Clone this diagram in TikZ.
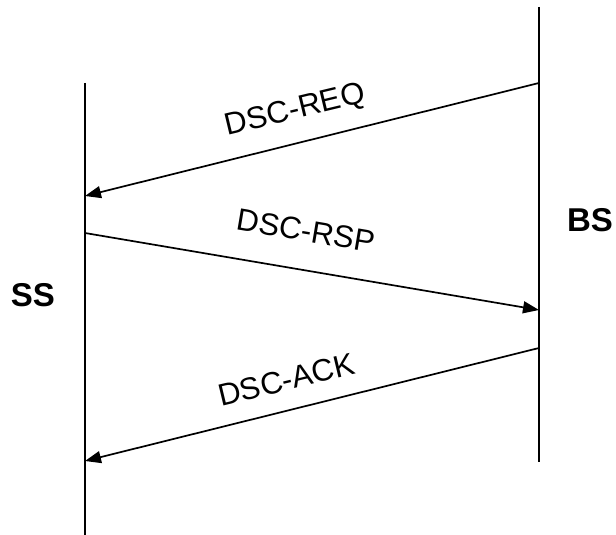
\documentclass[tikz,border=0pt]{standalone}
\usepackage{fontspec}
\setmainfont{Liberation Sans}
\usetikzlibrary{arrows.meta}
\begin{document}
\begin{tikzpicture}[x=1pt,y=-1pt,
  lifeline/.style={line width=1.7pt},
  msg/.style={line width=1.7pt,-{Triangle[length=16pt,width=12pt]}},
  msglabel/.style={inner sep=0pt,anchor=base,font=\fontsize{31}{37}\selectfont},
  actor/.style={inner sep=0pt,anchor=base,font=\fontsize{33}{40}\selectfont\bfseries}]
\useasboundingbox (0,0) rectangle (616,535);
% lifelines
\coordinate (sstop) at (85,83);
\coordinate (ssbot) at (85,535);
\coordinate (bstop) at (539,7);
\coordinate (bsbot) at (539,462);
\draw[lifeline] (sstop) -- (ssbot);
\draw[lifeline] (bstop) -- (bsbot);
% message endpoints
\coordinate (b1) at (539,83);
\coordinate (s1) at (85,196);
\coordinate (s2) at (85,233);
\coordinate (b2) at (539,310);
\coordinate (b3) at (539,348);
\coordinate (s3) at (85,461);
\draw[msg] (b1) -- (s1);
\draw[msg] (s2) -- (b2);
\draw[msg] (b3) -- (s3);
% labels
\node[msglabel,rotate=13.5] (lreq) at (297,119) {DSC-REQ};
\node[msglabel,rotate=-9.6] (lrsp) at (304,241) {DSC-RSP};
\node[msglabel,rotate=13.5] (lack) at (289,390) {DSC-ACK};
\node[actor] (ss) at (33,306) {SS};
\node[actor] (bs) at (590,231) {BS};
\end{tikzpicture}
\end{document}
